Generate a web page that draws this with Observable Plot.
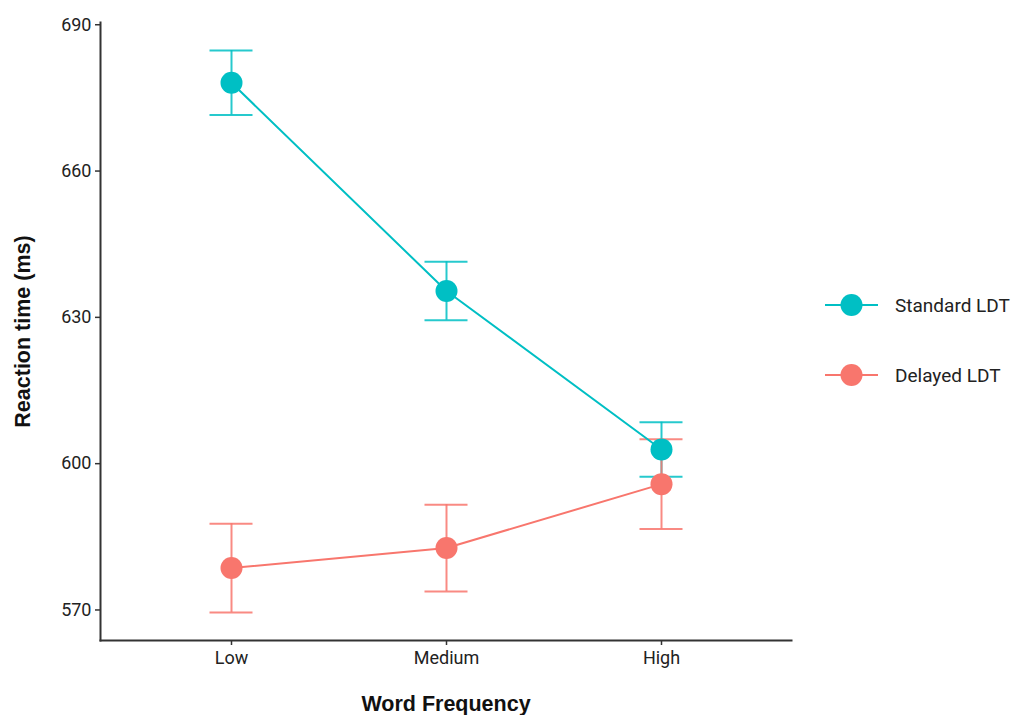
<!DOCTYPE html>
<html>
<head>
<meta charset="utf-8">
<script src="https://cdn.jsdelivr.net/npm/d3@7"></script>
<script src="https://cdn.jsdelivr.net/npm/@observablehq/plot@0.6"></script>
<style>
  html, body { margin: 0; padding: 0; background: #fff; }
  #chart { position: relative; width: 1012px; height: 715px; }
</style>
</head>
<body>
<div id="chart"></div>
<script>
const categories = ["Low", "Medium", "High"];
const seriesNames = ["Standard LDT", "Delayed LDT"];
const seriesColors = ["#00BFC4", "#F8766D"];
const standardMean = [678.1, 635.4, 602.9];
const standardSE = [6.6, 6.0, 5.6];
const delayedMean = [578.6, 582.7, 595.8];
const delayedSE = [9.1, 8.9, 9.2];
const yTicks = [570, 600, 630, 660, 690];

const rows = [];
categories.forEach((c, i) => {
  rows.push({cat: c, series: seriesNames[0], mean: standardMean[i], lo: standardMean[i] - standardSE[i], hi: standardMean[i] + standardSE[i]});
  rows.push({cat: c, series: seriesNames[1], mean: delayedMean[i], lo: delayedMean[i] - delayedSE[i], hi: delayedMean[i] + delayedSE[i]});
});
const allLo = d3.min(rows, d => d.lo), allHi = d3.max(rows, d => d.hi);
const pad = (allHi - allLo) * 0.05;
const yDomain = [allLo - pad, allHi + pad];

const font = "Roboto, 'Liberation Sans', sans-serif";
const titleFont = "'Liberation Sans', Arial, sans-serif";
const capHalf = 21.5;

const plot = Plot.plot({
  width: 1012,
  height: 715,
  marginLeft: 100,
  marginRight: 221,
  marginTop: 22,
  marginBottom: 75,
  style: {fontFamily: font, fontSize: "18px", color: "#222", background: "#fff"},
  x: {type: "point", domain: categories, padding: 0.6},
  y: {domain: yDomain},
  color: {domain: seriesNames, range: seriesColors},
  marks: [
    Plot.frame({anchor: "left", stroke: "#333", strokeWidth: 2}),
    Plot.frame({anchor: "bottom", stroke: "#333", strokeWidth: 2}),
    Plot.axisY({ticks: yTicks, tickSize: 5, tickPadding: 4, stroke: "#333", strokeWidth: 1.5,
      fill: "#222", fontSize: 18, label: "Reaction time (ms)", labelAnchor: "center", labelArrow: "none", labelOffset: 86}),
    Plot.axisX({tickSize: 5, tickPadding: 6, stroke: "#333", strokeWidth: 1.5, fill: "#222", fontSize: 18,
      label: "Word Frequency", labelAnchor: "center", labelArrow: "none", labelOffset: 70}),
    Plot.ruleX(rows, {x: "cat", y1: "lo", y2: "hi", stroke: "series", strokeWidth: 2, strokeOpacity: 0.85}),
    Plot.ruleY(rows, {x1: "cat", x2: "cat", y: "lo", stroke: "series", strokeWidth: 2, strokeOpacity: 0.85, insetLeft: -capHalf, insetRight: -capHalf}),
    Plot.ruleY(rows, {x1: "cat", x2: "cat", y: "hi", stroke: "series", strokeWidth: 2, strokeOpacity: 0.85, insetLeft: -capHalf, insetRight: -capHalf}),
    Plot.lineY(rows, {x: "cat", y: "mean", z: "series", stroke: "series", strokeWidth: 2}),
    Plot.dot(rows, {x: "cat", y: "mean", fill: "series", r: 11})
  ]
});

const root = d3.select(plot);
root.selectAll("g[aria-label='y-axis label'] text, g[aria-label='x-axis label'] text")
  .attr("font-weight", "bold").attr("font-size", 21.5).attr("font-family", titleFont).attr("fill", "#111");

// legend
const leg = root.append("g").attr("aria-label", "legend").attr("font-family", font).attr("font-size", 19);
seriesNames.forEach((name, i) => {
  const g = leg.append("g").attr("transform", `translate(825, ${305 + i * 70})`);
  g.append("line").attr("x1", 0).attr("x2", 53).attr("y1", 0).attr("y2", 0)
    .attr("stroke", seriesColors[i]).attr("stroke-width", 2);
  g.append("circle").attr("cx", 26.5).attr("cy", 0).attr("r", 11).attr("fill", seriesColors[i]);
  g.append("text").attr("x", 70).attr("y", 0).attr("dy", "0.35em").attr("text-anchor", "start")
    .attr("fill", "#222").text(name);
});

document.getElementById("chart").appendChild(plot);
</script>
</body>
</html>
